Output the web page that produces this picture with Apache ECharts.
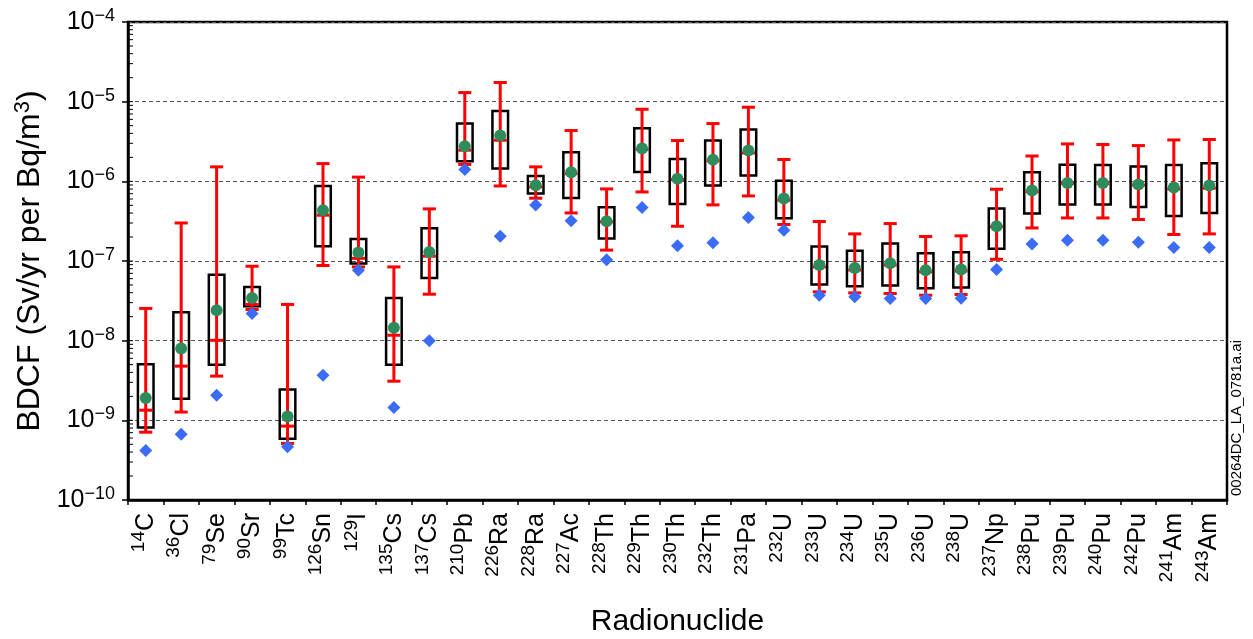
<!DOCTYPE html>
<html>
<head>
<meta charset="utf-8">
<script src="https://cdn.jsdelivr.net/npm/echarts@6/dist/echarts.min.js"></script>
<style>
html,body{margin:0;padding:0;background:#fff;}
#chart{width:1253px;height:639px;}
</style>
</head>
<body>
<div id="chart"></div>
<script>
// Categories: mass number (superscript) + element symbol
const massNumbers = ['14','36','79','90','99','126','129','135','137','210','226','228','227','228','229','230','232','231','232','233','234','235','236','238','237','238','239','240','242','241','243'];
const elements = ['C','Cl','Se','Sr','Tc','Sn','I','Cs','Cs','Pb','Ra','Ra','Ac','Th','Th','Th','Th','Pa','U','U','U','U','U','U','Np','Pu','Pu','Pu','Pu','Am','Am'];
const categories = massNumbers.map((m, i) => m + elements[i]);

// Red whisker ends
const whiskerMax = [2.54e-8,3.0e-7,1.52e-6,8.6e-8,2.85e-8,1.67e-6,1.13e-6,8.43e-8,4.51e-7,1.30e-5,1.74e-5,1.52e-6,4.34e-6,8.03e-7,8.03e-6,3.25e-6,5.31e-6,8.51e-6,1.88e-6,3.13e-7,2.19e-7,2.95e-7,2.03e-7,2.07e-7,7.96e-7,2.08e-6,2.95e-6,2.90e-6,2.81e-6,3.31e-6,3.35e-6];
const whiskerMin = [7.1e-10,1.27e-9,3.59e-9,2.46e-8,5.13e-10,8.78e-8,8.43e-8,3.10e-9,3.83e-8,1.63e-6,8.75e-7,6.14e-7,4.01e-7,1.37e-7,7.36e-7,2.73e-7,5.06e-7,6.56e-7,2.87e-7,4.10e-8,3.98e-8,3.91e-8,3.72e-8,3.80e-8,1.05e-7,2.60e-7,3.47e-7,3.47e-7,3.32e-7,2.15e-7,2.19e-7];
// Black box ends
const boxHigh = [5.07e-9,2.28e-8,6.7e-8,4.73e-8,2.44e-9,8.75e-7,1.89e-7,3.44e-8,2.58e-7,5.31e-6,7.64e-6,1.17e-6,2.32e-6,4.73e-7,4.64e-6,1.91e-6,3.25e-6,4.47e-6,1.02e-6,1.52e-7,1.34e-7,1.66e-7,1.25e-7,1.29e-7,4.56e-7,1.30e-6,1.61e-6,1.60e-6,1.53e-6,1.60e-6,1.69e-6];
const boxLow = [8.15e-10,1.86e-9,4.97e-9,2.71e-8,5.86e-10,1.53e-7,9.3e-8,4.97e-9,6.14e-8,1.79e-6,1.45e-6,7.03e-7,6.19e-7,1.92e-7,1.31e-6,5.20e-7,8.86e-7,1.18e-6,3.44e-7,5.07e-8,4.83e-8,4.93e-8,4.56e-8,4.65e-8,1.42e-7,3.94e-7,5.12e-7,5.12e-7,4.77e-7,3.68e-7,4.01e-7];
// Red median line
const median = [1.34e-9,4.79e-9,1.01e-8,2.85e-8,8.46e-10,3.76e-7,1.08e-7,1.17e-8,1.15e-7,2.46e-6,3.28e-6,8.51e-7,1.25e-6,3.1e-7,2.52e-6,1.05e-6,1.81e-6,2.27e-6,5.79e-7,8.43e-8,7.7e-8,8.9e-8,7.3e-8,7.5e-8,2.7e-7,7.4e-7,9.4e-7,9.4e-7,9.0e-7,8.0e-7,8.2e-7];
// Green circles
const mean = [1.91e-9,7.98e-9,2.41e-8,3.44e-8,1.12e-9,4.34e-7,1.28e-7,1.45e-8,1.30e-7,2.76e-6,3.76e-6,8.93e-7,1.30e-6,3.16e-7,2.58e-6,1.08e-6,1.86e-6,2.43e-6,6.08e-7,8.93e-8,8.19e-8,9.38e-8,7.67e-8,7.82e-8,2.73e-7,7.67e-7,9.55e-7,9.55e-7,9.12e-7,8.36e-7,8.86e-7];
// Blue diamonds
const diamond = [4.19e-10,6.7e-10,2.07e-9,2.19e-8,4.65e-10,3.69e-9,7.67e-8,1.45e-9,9.94e-9,1.41e-6,2.05e-7,5.06e-7,3.19e-7,1.04e-7,4.69e-7,1.55e-7,1.69e-7,3.52e-7,2.43e-7,3.72e-8,3.55e-8,3.38e-8,3.38e-8,3.41e-8,7.82e-8,1.64e-7,1.82e-7,1.82e-7,1.72e-7,1.48e-7,1.48e-7];

// Axis ticks (log minor ticks drawn inside the left axis)
const decades = [-10,-9,-8,-7,-6,-5];
const tickMultipliers = [1,2,3,4,5,6,7,8,9];

const FONT = 'Liberation Sans, Arial, Helvetica, sans-serif';
const chart = echarts.init(document.getElementById('chart'), null, {renderer: 'canvas'});

const boxData = categories.map((c, i) => [i, whiskerMin[i], boxLow[i], median[i], boxHigh[i], whiskerMax[i]]);
const minorTickData = [];
decades.forEach(d => tickMultipliers.forEach(m => {
  if (!(m === 1 && d === -10)) minorTickData.push([0, m * Math.pow(10, d)]);
}));

const option = {
  animation: false,
  backgroundColor: '#fff',
  textStyle: {fontFamily: FONT},
  grid: {left: 128, right: 26, top: 22, bottom: 139, containLabel: false, outerBoundsMode: 'none', show: true, borderColor: '#000', borderWidth: 2.5, backgroundColor: 'transparent'},
  xAxis: {
    type: 'category',
    data: categories,
    boundaryGap: true,
    name: 'Radionuclide',
    nameLocation: 'middle',
    nameGap: 107,
    nameTextStyle: {fontSize: 30, color: '#000', fontFamily: FONT},
    axisLine: {lineStyle: {color: '#000', width: 2.5}},
    axisTick: {show: true, alignWithLabel: false, length: 5, lineStyle: {color: '#000', width: 1.5}},
    splitLine: {show: false},
    axisLabel: {
      rotate: 90,
      margin: 13,
      interval: 0,
      color: '#000',
      formatter: function (v, i) { return '{s|' + massNumbers[i] + '}{m|' + elements[i] + '}'; },
      rich: {
        s: {fontSize: 19, fontFamily: FONT, color: '#000', padding: [0, 0, 14, 0]},
        m: {fontSize: 25, fontFamily: FONT, color: '#000'}
      }
    }
  },
  yAxis: {
    type: 'log',
    logBase: 10,
    min: 1e-10,
    max: 1e-4,
    name: 'BDCF (Sv/yr per Bq/m{s|3})',
    nameLocation: 'middle',
    nameGap: 80,
    nameRotate: 90,
    nameTextStyle: {
      fontSize: 32, color: '#000', fontFamily: FONT,
      rich: {s: {fontSize: 22, fontFamily: FONT, color: '#000', padding: [0, 0, 14, 0]}}
    },
    axisLine: {show: true, lineStyle: {color: '#000', width: 2.5}},
    axisTick: {show: true, inside: false, length: 6, lineStyle: {color: '#000', width: 1.5}},
    splitLine: {show: true, lineStyle: {color: '#555', type: [4, 3], width: 1}},
    axisLabel: {
      margin: 13,
      color: '#000',
      formatter: function (v) {
        const e = Math.round(Math.log10(v));
        return '{b|10}{s|\u2212' + Math.abs(e) + '}';
      },
      rich: {
        b: {fontSize: 25, fontFamily: FONT, color: '#000'},
        s: {fontSize: 18, fontFamily: FONT, color: '#000', padding: [0, 0, 12, 0]}
      }
    }
  },
  series: [
    {
      type: 'custom',
      name: 'minorTicks',
      silent: true,
      clip: false,
      data: minorTickData,
      encode: {x: 0, y: 1},
      renderItem: function (params, api) {
        const y = api.coord([0, api.value(1)])[1];
        const x0 = params.coordSys.x;
        return {type: 'line', shape: {x1: x0, y1: y, x2: x0 + 5, y2: y}, style: {stroke: '#000', lineWidth: 1}};
      },
      z: 1
    },
    {
      type: 'custom',
      name: 'range',
      data: boxData,
      encode: {x: 0, y: [1, 2, 3, 4, 5]},
      renderItem: function (params, api) {
        const i = api.value(0);
        const pMin = api.coord([i, api.value(1)]);
        const pQ1 = api.coord([i, api.value(2)]);
        const pMed = api.coord([i, api.value(3)]);
        const pQ3 = api.coord([i, api.value(4)]);
        const pMax = api.coord([i, api.value(5)]);
        const band = params.coordSys.width / categories.length;
        const bw = band * 0.44, cw = band * 0.37;
        const x = pMin[0];
        const red = {stroke: '#ff0000', lineWidth: 3};
        return {
          type: 'group',
          children: [
            {type: 'rect', shape: {x: x - bw / 2, y: pQ3[1], width: bw, height: pQ1[1] - pQ3[1]}, style: {fill: 'none', stroke: '#000', lineWidth: 2.5}},
            {type: 'line', shape: {x1: x, y1: pMin[1], x2: x, y2: pMax[1]}, style: red},
            {type: 'line', shape: {x1: x - cw / 2, y1: pMin[1], x2: x + cw / 2, y2: pMin[1]}, style: red},
            {type: 'line', shape: {x1: x - cw / 2, y1: pMax[1], x2: x + cw / 2, y2: pMax[1]}, style: red},
            {type: 'line', shape: {x1: x - cw / 2, y1: pMed[1], x2: x + cw / 2, y2: pMed[1]}, style: red}
          ]
        };
      },
      z: 2
    },
    {
      type: 'scatter',
      name: 'diamond',
      data: diamond,
      symbol: 'diamond',
      symbolSize: [13, 13],
      itemStyle: {color: '#3b6cf5', opacity: 1},
      z: 3
    },
    {
      type: 'scatter',
      name: 'mean',
      data: mean,
      symbol: 'circle',
      symbolSize: 12,
      itemStyle: {color: '#2e8b5c', opacity: 1},
      z: 4
    }
  ],
  graphic: [
    {
      type: 'text',
      x: 1237,
      y: 418,
      rotation: Math.PI / 2,
      style: {text: '00264DC_LA_0781a.ai', fontSize: 15, fontFamily: FONT, fill: '#000', align: 'center', verticalAlign: 'middle'}
    }
  ]
};
chart.setOption(option);
</script>
</body>
</html>
